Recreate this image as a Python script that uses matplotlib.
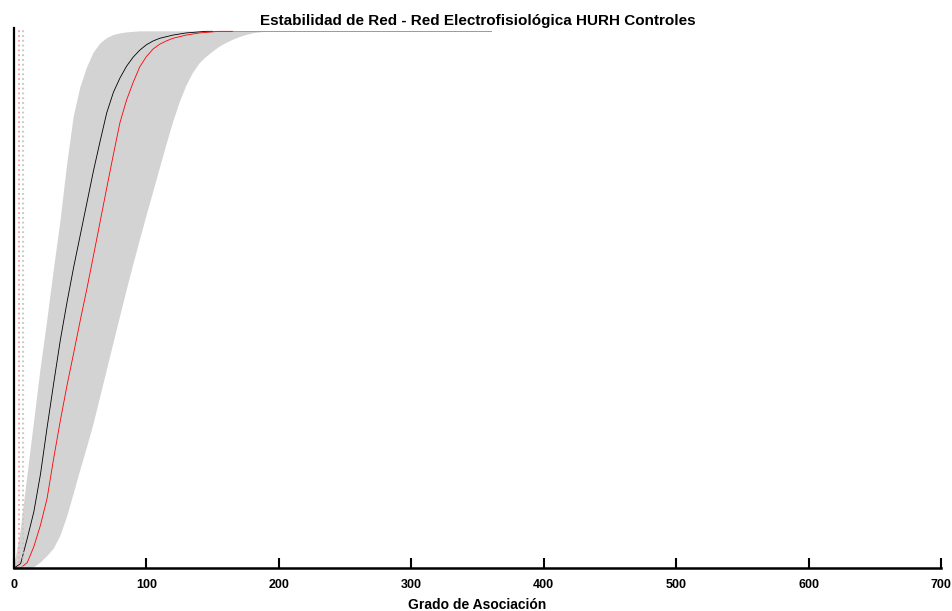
import matplotlib
matplotlib.use('Agg')
import matplotlib.pyplot as plt

# grado de asociacion (eje x)
grado = list(range(0, 201, 5)) + [250, 300, 360]

# banda gris: limite superior (borde izquierdo) e inferior (borde derecho)
banda_sup = [0.0, 0.07, 0.17, 0.27, 0.37, 0.46, 0.555, 0.645, 0.75, 0.84, 0.895, 0.932,
             0.96, 0.977, 0.987, 0.993, 0.996, 0.998, 0.999, 1.0, 1.0, 1.0, 1.0, 1.0, 1.0,
             1.0, 1.0, 1.0, 1.0, 1.0, 1.0, 1.0, 1.0, 1.0, 1.0, 1.0, 1.0, 1.0, 1.0, 1.0,
             1.0, 1.0, 1.0, 1.0]
banda_inf = [0.0, 0.0, 0.0, 0.001, 0.01, 0.022, 0.036, 0.06, 0.095, 0.138, 0.182, 0.224,
             0.268, 0.318, 0.368, 0.418, 0.468, 0.517, 0.565, 0.611, 0.656, 0.70, 0.744,
             0.788, 0.83, 0.867, 0.898, 0.922, 0.94, 0.952, 0.962, 0.971, 0.978, 0.984,
             0.989, 0.993, 0.996, 0.998, 0.999, 1.0, 1.0, 1.0, 1.0, 1.0]

# curva media (negra), grado 0..150
media = [0.0, 0.008, 0.055, 0.105, 0.175, 0.262, 0.345, 0.425, 0.495, 0.56, 0.62, 0.68,
         0.74, 0.795, 0.848, 0.886, 0.913, 0.935, 0.952, 0.965, 0.975, 0.982, 0.987, 0.99,
         0.993, 0.995, 0.997, 0.998, 0.999, 1.0, 1.0]

# curva roja, grado 0..165
rojo = [0.0, 0.0, 0.01, 0.04, 0.08, 0.13, 0.205, 0.275, 0.34, 0.40, 0.461, 0.52, 0.582,
        0.645, 0.708, 0.77, 0.83, 0.872, 0.905, 0.934, 0.953, 0.967, 0.976, 0.982, 0.987,
        0.99, 0.993, 0.995, 0.997, 0.998, 0.999, 1.0, 1.0, 1.0]

# umbrales (lineas verticales punteadas)
umbral_rojo = 3.5
umbral_gris = 6.5

plt.rcParams['font.family'] = ['Liberation Sans', 'DejaVu Sans']

fig = plt.figure(figsize=(9.53, 6.11), dpi=100)
ax = fig.add_axes([0.0147, 0.0704, 0.9727, 0.8836])

ax.fill_between(grado, banda_inf, banda_sup, facecolor='#d3d3d3', edgecolor='none',
                linewidth=0)
# tramo plano de la banda en 1
ax.plot(grado[30:], banda_sup[30:], color='#9a9a9a', linewidth=0.7)
ax.plot(grado[:len(media)], media, color='black', linewidth=0.6)
ax.plot(grado[:len(rojo)], rojo, color='red', linewidth=0.6)
ax.axvline(umbral_rojo, color='#ff9c9c', linestyle=':', linewidth=1.3)
ax.axvline(umbral_gris, color='#c4c4c4', linestyle=':', linewidth=1.3)

ax.set_xlim(0, 700)
ax.set_ylim(0, 1.006)
ax.set_xticks(range(0, 701, 100))
ax.set_yticks([])
ax.spines['top'].set_visible(False)
ax.spines['right'].set_visible(False)
ax.spines['left'].set_linewidth(1.6)
ax.spines['bottom'].set_linewidth(1.8)
ax.tick_params(axis='x', direction='in', length=7, width=1.5, pad=8, labelsize=9)
for lab in ax.get_xticklabels():
    lab.set_fontweight('bold')

ax.set_title('Estabilidad de Red - Red Electrofisiológica HURH Controles',
             fontsize=11, fontweight='bold', pad=2)
ax.set_xlabel('Grado de Asociación', fontsize=10, fontweight='bold', labelpad=5)

plt.savefig('out.png', dpi=100)
plt.close()
